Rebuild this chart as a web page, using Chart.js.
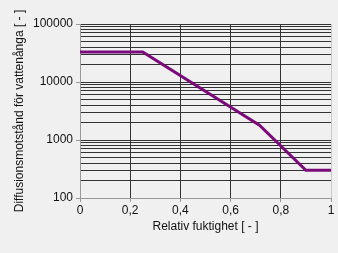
<!DOCTYPE html>
<html>
<head>
<meta charset="utf-8">
<script src="https://cdn.jsdelivr.net/npm/chart.js@4/dist/chart.umd.min.js"></script>
<style>
html,body{margin:0;padding:0;background:#f0f0f0;}
#wrap{width:338px;height:253px;position:relative;}
</style>
</head>
<body>
<div id="wrap"><canvas id="c" width="338" height="253"></canvas></div>
<script>
const relHumidity = [0, 0.25, 0.715, 0.9, 1];
const diffusionResistance = [33000, 33000, 1800, 300, 300];
const xTickValues = [0, 0.2, 0.4, 0.6, 0.8, 1];
const yLabelValues = [100, 1000, 10000, 100000];
const xTitle = 'Relativ fuktighet [ - ]';
const yTitle = 'Diffusionsmotstånd för vattenånga [ - ]';

const font = {family: 'Liberation Sans, Arial, sans-serif', size: 12};

new Chart(document.getElementById('c'), {
  type: 'line',
  data: {
    datasets: [{
      data: relHumidity.map((x, i) => ({x: x, y: diffusionResistance[i]})),
      borderColor: '#7a0a7a',
      borderWidth: 3,
      pointRadius: 0,
      tension: 0,
      fill: false
    }]
  },
  options: {
    responsive: false,
    animation: false,
    devicePixelRatio: 1,
    layout: {padding: {top: 24, right: 7, left: 0, bottom: 0}},
    plugins: {legend: {display: false}, tooltip: {enabled: false}},
    scales: {
      x: {
        type: 'linear',
        min: 0, max: 1,
        afterBuildTicks: s => { s.ticks = xTickValues.map(v => ({value: v})); },
        afterFit: s => { s.height = 55; },
        ticks: {
          font: font, color: '#111', padding: 1, maxRotation: 0,
          callback: v => String(Math.round(v * 10) / 10).replace('.', ',')
        },
        grid: {
          color: c => c.tick && c.tick.value === 0 ? '#999' : (c.tick && c.tick.value === 1 ? '#c8c8c8' : '#333'),
          tickLength: 4, lineWidth: 1, drawTicks: true,
          tickColor: '#999'
        },
        border: {display: true, color: '#999'},
        title: {display: true, text: xTitle, font: font, color: '#111', padding: {top: 0, bottom: 19}}
      },
      y: {
        type: 'logarithmic',
        min: 100, max: 100000,
        afterBuildTicks: s => {
          const t = [];
          for (let e = 2; e <= 4; e++) {
            for (let m = 1; m <= 9; m++) t.push({value: m * Math.pow(10, e)});
          }
          t.push({value: 100000});
          s.ticks = t;
        },
        afterFit: s => { s.width = 80; },
        ticks: {
          font: font, color: '#111', padding: 3, autoSkip: false,
          callback: v => yLabelValues.includes(v) ? String(v) : ''
        },
        grid: {
          color: c => c.tick && c.tick.value === 100 ? '#999' : '#333',
          tickLength: 4, lineWidth: 1,
          tickColor: c => c.tick && yLabelValues.includes(c.tick.value) ? '#999' : 'rgba(0,0,0,0)'
        },
        border: {display: true, color: '#999'},
        title: {display: true, text: yTitle, font: font, color: '#111', padding: {top: 12, bottom: 0}}
      }
    }
  }
});
</script>
</body>
</html>
